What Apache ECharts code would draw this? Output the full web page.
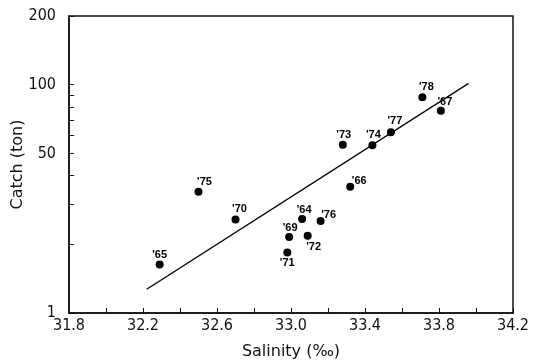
<!DOCTYPE html>
<html>
<head>
<meta charset="utf-8">
<script src="https://cdn.jsdelivr.net/npm/echarts@6/dist/echarts.min.js"></script>
<style>html,body{margin:0;padding:0;background:#fff}#c{width:539px;height:361px}</style>
</head>
<body>
<div id="c"></div>
<script>
// Data
const years    = ["'64","'65","'66","'67","'69","'70","'71","'72","'73","'74","'75","'76","'77","'78"];
const salinity = [33.06, 32.29, 33.32, 33.81, 32.99, 32.70, 32.98, 33.09, 33.28, 33.44, 32.50, 33.16, 33.54, 33.71];
const catchTon = [25.8, 16.3, 35.7, 76.9, 21.5, 25.7, 18.4, 21.8, 54.6, 54.3, 34.0, 25.3, 61.9, 88.1];
// Regression line end points
const lineSalinity = [32.22, 33.96];
const lineCatch    = [12.7, 101.4];
// Axis ticks
const xLabelValues = [31.8, 32.2, 32.6, 33.0, 33.4, 33.8, 34.2];
const yLabelValues = [10, 50, 100, 200];
const yTickValues  = [10, 20, 30, 40, 50, 60, 70, 80, 90, 100, 200];

// label placement (style, not data)
const labelOffsets = {
  "'75":[6,-10], "'70":[4,-10], "'65":[0,-10], "'64":[2,-9], "'76":[8,-6],
  "'69":[1,-9], "'72":[6,11], "'71":[0,10], "'66":[9,-6], "'78":[4,-10],
  "'67":[4,-9], "'77":[4,-11], "'74":[1,-10], "'73":[1,-10]
};

const chart = echarts.init(document.getElementById('c'), null, {renderer:'canvas'});
const tickFont = "'Liberation Sans Narrow','DejaVu Sans Condensed',sans-serif";
const pts = years.map((y,i)=>({
  value:[salinity[i], catchTon[i]],
  name:y,
  label:{offset: labelOffsets[y]}
}));
chart.setOption({
  animation:false,
  backgroundColor:'#fff',
  grid:{left:69, right:26, top:16, bottom:48, show:true, borderColor:'#111', borderWidth:1.5,
    backgroundColor:'transparent', containLabel:false, outerBoundsMode:'none'},
  xAxis:{
    type:'value', min:31.8, max:34.2, interval:0.2,
    name:'Salinity (‰)', nameLocation:'middle', nameGap:31, nameMoveOverlap:false,
    nameTextStyle:{fontFamily:'DejaVu Sans', fontSize:16, color:'#111'},
    axisLine:{lineStyle:{color:'#111', width:1.5}},
    axisTick:{inside:true, length:5, lineStyle:{color:'#111'}},
    axisLabel:{color:'#111', fontFamily:tickFont, fontSize:16, margin:5,
      formatter:v=> xLabelValues.some(l=>Math.abs(l-v)<1e-6) ? v.toFixed(1) : ''},
    splitLine:{show:false}
  },
  yAxis:{
    type:'log', logBase:10, min:10, max:200,
    name:'Catch (ton)', nameLocation:'middle', nameGap:43, nameMoveOverlap:false,
    nameTextStyle:{fontFamily:'DejaVu Sans', fontSize:16, color:'#111'},
    axisLine:{lineStyle:{color:'#111', width:1.5}},
    axisTick:{inside:true, length:5, customValues:yTickValues, lineStyle:{color:'#111'}},
    axisLabel:{customValues:yLabelValues, color:'#111', fontFamily:tickFont, fontSize:16, margin:13,
      formatter:v=> (Math.round(v)===10 ? '1' : String(Math.round(v)))},
    minorTick:{show:false},
    splitLine:{show:false}
  },
  series:[
    {
      type:'line', data:lineSalinity.map((x,i)=>[x,lineCatch[i]]),
      symbol:'none', lineStyle:{color:'#000', width:1.3}, z:1, silent:true
    },
    {
      type:'scatter', data:pts, symbol:'circle', symbolSize:8,
      itemStyle:{color:'#000', opacity:1}, z:3,
      label:{show:true, position:'inside', formatter:p=>p.name,
        fontFamily:"'Liberation Sans',Arial,sans-serif", fontWeight:'bold', fontSize:11, color:'#000'}
    }
  ]
});
</script>
</body>
</html>
